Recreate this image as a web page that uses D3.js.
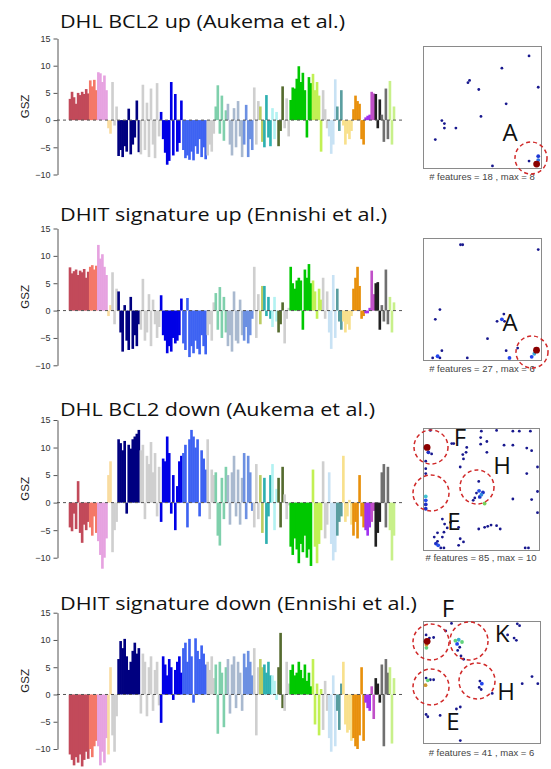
<!DOCTYPE html>
<html><head><meta charset="utf-8">
<script src="https://cdn.jsdelivr.net/npm/d3@7/dist/d3.min.js"></script>
<style>body{margin:0;background:#fff;}svg{display:block;}</style>
</head><body>
<svg id="c" width="551" height="769"></svg>
<script>
// ---------- DATA ----------
const titles = ["DHL BCL2 up (Aukema et al.)","DHIT signature up (Ennishi et al.)","DHL BCL2 down (Aukema et al.)","DHIT signature down (Ennishi et al.)"];
const yTicks = [-10,-5,0,5,10,15];
const segColors = ["#c24a5a","#f47868","#e6a2e0","#f9dca0","#cfcfcf","#000080","#cfcfcf","#0000e6","#3d62f2","#cfcfcf","#7fd0ac","#a9b9cf","#6c90e2","#cfcfcf","#bccc62","#2eb0b0","#b2f2f2","#556b2f","#cfcfcf","#00c800","#c2f054","#cfcfcf","#c8e2f4","#5a9ea0","#f8e08c","#e8900c","#a030f0","#c050c8","#202020","#707070","#c8f08a"];

const gsz1 = [[3.9,5.2,4.2,3.0,5.0,4.6,5.2,4.8,5.7,4.9],[7.3,6.2,7.4,5.5],[8.8,8.6,7.0,8.2,5.5],[-1.5,-2.5],[7.0,-1.0,2.5],
 [-6.6,-5.5,-6.8,-4.8,-5.8,2.1,-6.3,-4.5,-3.2,3.6,-5.9],[-6.3,6.5,-5.5,3.2,-6.8,5.8,-4.5,-7.0,6.8,-3.0],
 [1.5,-3.5,-6.0,-8.2,-7.5,7.0,-6.5,4.8,-5.8,-4.2,3.6],[-5.5,-7.0,-6.5,-7.3,-5.8,-7.4,-4.8,-6.2,-3.5,-6.8,-5.0,-7.2],
 [-6.5,-4.5,-5.8,-2.5],[2.5,6.4,-2.5,4.5,-3.8,1.8],[3.0,-4.5,-6.5,2.2,-5.0,3.5,-3.0,-6.8],[-4.5,2.8,-6.8,-3.5,-5.5],
 [6.0,-4.5,3.5],[2.5,-4.0],[-5.0,4.6,-3.2,-4.8],[2.2,-3.5,1.5],[-4.8,-2.0,6.2],[-1.5,4.0,-3.0],
 [3.7,6.0,5.8,7.6,9.9,7.0,8.7,5.5,-3.2,7.9,6.8],[8.5,5.5,7.0,4.5,-5.8],[5.5,2.0,-1.5],[-3.0,-6.2,-4.5,7.5],[2.5,-2.0,5.5],
 [-1.0,-4.5,-2.5,-3.5,-2.0],[2.0,4.5,3.5,3.0,-3.5,-4.5],[0.5,0.8,1.0],[5.2,4.9],[4.8,-1.5,3.8],[1.0,-4.0,5.8,-3.5],[7.2,-4.5,2.5]];

const gsz2 = [[7.9,6.8,7.2,7.5,6.5,7.3,7.0,7.6,6.0,7.1],[8.0,8.3,7.5,8.2],[12.0,9.5,10.3,8.0,6.5],[-1.0,1.0],[7.0,-2.5,4.0],
 [3.5,-4.0,-7.5,1.0,-5.5,-7.2,2.5,-7.0,-4.5,-6.5,-2.5],[-3.5,5.8,-5.5,-4.0,3.0,-6.5,2.0,-2.5,-5.0,-3.0],
 [2.8,-4.5,-5.5,-7.8,-6.5,-7.5,-5.0,-6.0,-5.5,-4.5,2.2],[-6.0,-7.2,2.3,-8.5,-6.5,-7.8,-5.5,-7.0,-8.0,-4.5,-6.5,-8.0],
 [-4.5,-2.5,-5.5,1.5],[3.2,-3.5,4.3,-5.0,2.5,-4.0],[-6.5,-4.5,-7.5,3.5,-5.5,-6.0,2.0,-4.5],[-5.5,-3.0,-6.0,-4.5,-1.5],
 [8.0,-5.0,3.0],[-2.5,4.5],[4.5,-1.0,2.5,-1.5],[-3.0,2.5,-2.0],[-4.0,-2.5,1.5],[-6.0,-1.5,0.5],
 [8.0,5.0,4.0,5.5,6.0,5.5,-3.5,7.5,6.0,8.5,5.0],[5.5,3.5,-1.5,4.0,2.0],[6.0,-1.5,3.5],[-4.0,-7.0,6.5,-5.0],[4.0,-2.0,-3.5],
 [-2.0,-4.0,-2.5,-3.5,-1.0],[4.0,6.0,8.0,4.5,-1.5,-1.0],[-0.5,-0.5,0.5],[7.3,3.0],[5.0,5.2,-3.5],[1.0,-2.0,7.5,-2.5],[2.5,-4.0,1.5]];

const gsz3 = [[-4.5,-5.2,-2.0,-4.8,3.9,-5.5,-7.3,-4.0,-5.0,-3.5],[-4.5,-6.0,-2.5,-5.5],[-7.0,-9.5,-12.0,-10.0,-6.5],[5.0,7.5],[-9.0,-5.0,-3.5],
 [11.5,10.8,9.5,11.2,-2.0,10.5,9.8,11.5,12.0,12.5,13.2],[9.5,10.5,-3.0,8.5,7.0,11.0,5.5,9.0,-2.5,6.5],
 [-3.5,8.0,7.5,12.0,9.0,-2.0,5.0,-5.0,3.0,7.5,8.5],[9.0,10.5,-4.5,11.5,13.2,12.0,10.0,11.5,-2.5,9.5,8.0,6.0],
 [11.5,-3.0,6.0,5.0],[5.5,-6.0,-7.8,4.5,-3.0,6.5],[5.0,-4.0,5.5,8.5,-2.5,6.0,-4.0,4.5],[9.0,-3.0,8.5,5.5,-1.5],
 [-4.5,7.0,-3.0],[5.0,-5.5],[4.5,-7.5,-2.5,5.0],[7.0,-5.0,2.5],[4.5,-4.5,6.5],[1.5,-3.0,-0.5],
 [-8.0,-9.5,-6.5,-8.5,-11.0,-7.5,-9.0,-6.0,-10.0,-8.5,-11.5],[6.0,-8.0,-11.0,-7.5,-5.0],[7.5,-6.5,-4.0],[5.5,-7.5,-10.5,-9.0],[-6.0,-3.5,-2.5],
 [8.5,-3.5,-2.5,0.5,-4.0],[-6.0,-3.5,-6.5,5.0,-2.5,-4.5],[-5.0,-6.0,-4.5],[-3.5,-1.5],[-8.0,-5.5,-3.5],[5.5,7.0,-4.5,6.5],[-5.0,-10.5,-6.0]];

const gsz4 = [[-11.0,-12.0,-13.0,-11.5,-12.5,-11.0,-13.2,-12.0,-10.5,-11.8],[-10.0,-11.5,-9.5,-8.5],[-9.5,-13.0,-10.5,-12.5,-8.0],[-11.0,5.0],[-7.5,-10.5,-4.0],
 [6.5,9.8,8.5,10.2,7.0,4.5,6.0,8.0,9.5,7.5,8.5],[-3.5,7.5,6.0,-4.0,5.0,7.0,-3.0,4.5,6.0,-2.0],
 [-5.2,7.0,5.5,3.5,6.5,5.0,-1.0,4.5,6.0,7.0,4.0],[8.5,9.5,6.0,10.2,7.0,-1.5,10.3,8.0,6.5,9.0,7.5,5.5],
 [6.0,4.5,7.0,3.0],[5.5,-7.2,6.0,4.0,-6.0,5.0],[6.5,-3.5,5.5,7.0,-2.5,6.0,4.0,-3.0],[7.5,5.0,8.0,6.0,3.5],
 [8.5,-7.5,5.0],[6.5,5.0],[5.5,4.0,6.0,3.5],[3.5,2.5,-1.0],[5.0,11.3,-2.5],[-3.0,6.0,2.0],
 [4.5,5.5,3.5,4.0,6.0,4.5,3.0,5.5,2.5,4.0,1.5],[6.5,-5.5,2.0,-7.5,1.0],[-6.5,2.5,-3.0],[-8.0,-10.5,3.5,-9.5],[-3.0,-6.5,2.0],
 [6.0,-5.5,-7.0,-6.5,-8.5],[-8.0,-9.5,-10.0,-7.5,5.0,-8.5],[-1.5,-2.5,-3.0],[1.5,-4.5],[3.0,2.0,-1.5],[5.5,-9.5,6.5,4.0],[5.0,-9.0,3.0]];

// SOM feature points: [x fraction, y fraction from top, count]
const som1 = [[0.909,0.071,1],[0.673,0.174,1],[0.378,0.296,1],[0.392,0.277,1],[0.472,0.353,1],[0.989,0.334,1],[0.710,0.473,1],[0.491,0.579,1],[0.151,0.614,1],[0.173,0.639,1],[0.173,0.677,1],[0.273,0.677,1],[0.094,0.774,1],[0.909,0.954,1],[0.591,0.995,1],[0.989,0.913,2],[0.989,0.946,3],[0.975,0.98,8]];
const som2 = [[0.313,0.044,1],[0.332,0.044,1],[0.989,0.085,1],[0.134,0.589,1],[0.094,0.671,1],[0.690,0.627,1],[0.673,0.671,2],[0.631,0.688,1],[0.696,0.688,1],[0.548,0.833,1],[0.151,0.934,1],[0.810,0.912,1],[0.710,0.934,1],[0.071,0.995,1],[0.114,0.981,2],[0.134,0.995,1],[0.372,0.995,1],[0.739,0.995,2],[0.932,0.986,2],[0.955,0.96,3],[0.974,0.93,6]];
const som3 = [[0.052,0.008,1],[0.503,0.014,1],[0.638,0.008,1],[0.782,0.014,1],[0.839,0.014,1],[0.937,0.014,1],[0.023,0.151,10],[0.034,0.192,2],[0.063,0.205,1],[0.241,0.118,1],[0.259,0.118,1],[0.339,0.211,1],[0.368,0.192,1],[0.345,0.247,1],[0.497,0.068,1],[0.497,0.123,1],[0.552,0.101,1],[0.704,0.132,1],[0.782,0.132,1],[0.905,0.156,1],[0.948,0.178,1],[0.316,0.315,1],[0.011,0.266,1],[0.011,0.329,1],[0.011,0.370,1],[0.552,0.192,1],[0.374,0.151,1],[0.480,0.436,1],[0.483,0.515,3],[0.460,0.534,1],[0.503,0.548,4],[0.517,0.529,2],[0.489,0.567,2],[0.445,0.575,1],[0.431,0.595,1],[0.532,0.622,7],[0.011,0.562,5],[0.011,0.595,3],[0.011,0.630,2],[0.011,0.666,2],[0.905,0.370,1],[1.0,0.315,1],[1.0,0.521,1],[0.782,0.584,1],[0.948,0.589,1],[1.0,0.699,1],[0.158,0.753,1],[0.178,0.795,1],[0.201,0.827,1],[0.230,0.781,1],[0.172,0.863,1],[0.302,0.822,1],[0.115,0.868,1],[0.086,0.904,1],[0.158,0.904,1],[0.480,0.836,1],[0.532,0.822,1],[0.560,0.814,1],[0.589,0.803,1],[0.638,0.808,1],[0.670,0.836,1],[0.115,0.940,1],[0.101,0.959,2],[0.121,0.973,3],[0.144,0.995,1],[0.172,0.995,1],[0.316,0.918,1],[0.345,0.945,1],[0.302,0.973,1],[0.891,0.995,1],[0.920,0.995,1]];
const som4 = [[0.237,0.008,1],[0.814,0.011,1],[0.834,0.027,1],[0.014,0.104,1],[0.080,0.126,1],[0.186,0.071,1],[0.043,0.131,1],[0.017,0.213,4],[0.017,0.186,5],[0.023,0.158,6],[0.286,0.180,2],[0.309,0.208,1],[0.291,0.235,1],[0.320,0.281,1],[0.343,0.309,1],[0.300,0.145,3],[0.271,0.153,4],[0.329,0.164,4],[0.729,0.104,1],[0.786,0.131,1],[0.806,0.150,1],[0.014,0.467,1],[0.051,0.481,1],[0.080,0.481,1],[0.009,0.527,5],[0.029,0.486,4],[0.486,0.492,1],[0.503,0.514,2],[0.480,0.546,1],[0.497,0.563,1],[0.594,0.596,1],[0.857,0.514,1],[0.943,0.454,1],[0.994,0.514,1],[0.314,0.710,1],[0.280,0.727,1],[0.014,0.773,1],[0.029,0.792,1],[0.137,0.781,1],[0.314,0.992,1]];
const nFeatures = [18,27,85,41];
const maxCount = [8,6,10,6];
const regionLabels = [["A"],["A"],["F","H","E"],["F","K","H","E"]];

// ---------- LAYOUT ----------
const layout = [
 {yTop:38.5, yBot:174.5, titleY:28, titleW:285, box:[423,46,541,168], capY:180,
  labels:[[510,141]], circles:[[531,158,16]]},
 {yTop:228.5, yBot:365.3, titleY:221, titleW:327, box:[423,238,541,360], capY:372,
  labels:[[510,331]], circles:[[532,352,16]]},
 {yTop:420, yBot:557.7, titleY:416, titleW:315, box:[423,428,539,550], capY:561,
  labels:[[460,446],[502,474],[454,530]], circles:[[431,447,17],[431,493,18],[477,487,17]]},
 {yTop:612.7, yBot:749, titleY:610, titleW:357, box:[423,621,540,743], capY:756,
  labels:[[448,617],[502,642],[506,700],[453,730]], circles:[[431,642,18],[469,641,19],[431,687,18],[477,681,18]]}
];

const svg = d3.select("#c");
const gszAll = [gsz1,gsz2,gsz3,gsz4];
const somAll = [som1,som2,som3,som4];
const nBars = d3.sum(gsz1, s => s.length);
const x = d3.scaleBand().domain(d3.range(nBars)).range([69,395]).padding(0);
const levelColor = d3.scaleLinear().domain([0,0.2,0.45,0.65,0.85,1])
  .range(["#18188e","#2244ee","#40c4d0","#6cd860","#f08020","#8b0000"]);

gszAll.forEach((segs, p) => {
  const L = layout[p];
  const g = svg.append("g");
  const y = d3.scaleLinear().domain([-10,15]).range([L.yBot, L.yTop]);
  const bars = [];
  let k = 0;
  segs.forEach((vals, si) => vals.forEach(v => bars.push({i:k++, v, c:segColors[si]})));
  g.selectAll("rect.bar").data(bars).enter().append("rect")
    .attr("x", d => x(d.i) - 0.3).attr("width", x.bandwidth() + 0.6)
    .attr("y", d => y(Math.max(0,d.v))).attr("height", d => Math.abs(y(d.v)-y(0)))
    .attr("fill", d => d.c);
  g.append("line").attr("x1",57).attr("x2",405).attr("y1",y(0)).attr("y2",y(0))
    .attr("stroke","#555").attr("stroke-width",1).attr("stroke-dasharray","3,3");
  const ax = g.append("g").attr("transform","translate(57.5,0)")
    .call(d3.axisLeft(y).tickValues(yTicks).tickSize(4).tickSizeOuter(0).tickPadding(3));
  ax.select(".domain").attr("stroke","#555");
  ax.selectAll(".tick line").attr("stroke","#555");
  ax.selectAll("text").attr("font-family","Liberation Sans, Arial, sans-serif").attr("font-size",9).attr("fill","#333");
  g.append("text").attr("transform",`translate(29,${y(2.5)}) rotate(-90)`)
    .attr("text-anchor","middle").attr("font-family","Liberation Sans, Arial, sans-serif")
    .attr("font-size",11.5).attr("fill","#222").text("GSZ");
  g.append("text").attr("x",60).attr("y",L.titleY).attr("font-family","Open Sans, sans-serif")
    .attr("font-size",19).attr("fill","#111").attr("textLength",L.titleW).attr("lengthAdjust","spacingAndGlyphs")
    .text(titles[p]);
  const [bx0,by0,bx1,by1] = L.box;
  const sx = d3.scaleLinear().domain([0,1]).range([bx0+1.5,bx1-1.5]);
  const sy = d3.scaleLinear().domain([0,1]).range([by0+1.5,by1-1.5]);
  g.append("rect").attr("x",bx0+0.5).attr("y",by0+0.5).attr("width",bx1-bx0).attr("height",by1-by0)
    .attr("fill","#fff").attr("stroke","#8a8a8a").attr("stroke-width",1);
  const pts = somAll[p].slice().sort((a,b)=>a[2]-b[2]);
  const mx = maxCount[p];
  g.selectAll("circle.pt").data(pts).enter().append("circle")
    .attr("cx", d => sx(d[0])).attr("cy", d => sy(d[1]))
    .attr("r", d => d[2] >= mx ? 3.4 : (d[2] > 1 ? 1.9 : 1.4))
    .attr("fill", d => levelColor((d[2]-1)/(mx-1)));
  g.append("text").attr("x",(bx0+bx1)/2).attr("y",L.capY).attr("text-anchor","middle")
    .attr("font-family","Liberation Sans, Arial, sans-serif").attr("font-size",9.5).attr("fill","#444")
    .text(`# features = ${nFeatures[p]} , max = ${mx}`);
  L.circles.forEach(c => g.append("circle").attr("cx",c[0]).attr("cy",c[1]).attr("r",c[2])
    .attr("fill","none").attr("stroke","#d02828").attr("stroke-width",1.5).attr("stroke-dasharray","4,3"));
  regionLabels[p].forEach((t,i) => g.append("text").attr("x",L.labels[i][0]).attr("y",L.labels[i][1])
    .attr("text-anchor","middle").attr("font-family","Open Sans, sans-serif").attr("font-size",24).attr("fill","#111").text(t));
});
</script>
</body></html>
